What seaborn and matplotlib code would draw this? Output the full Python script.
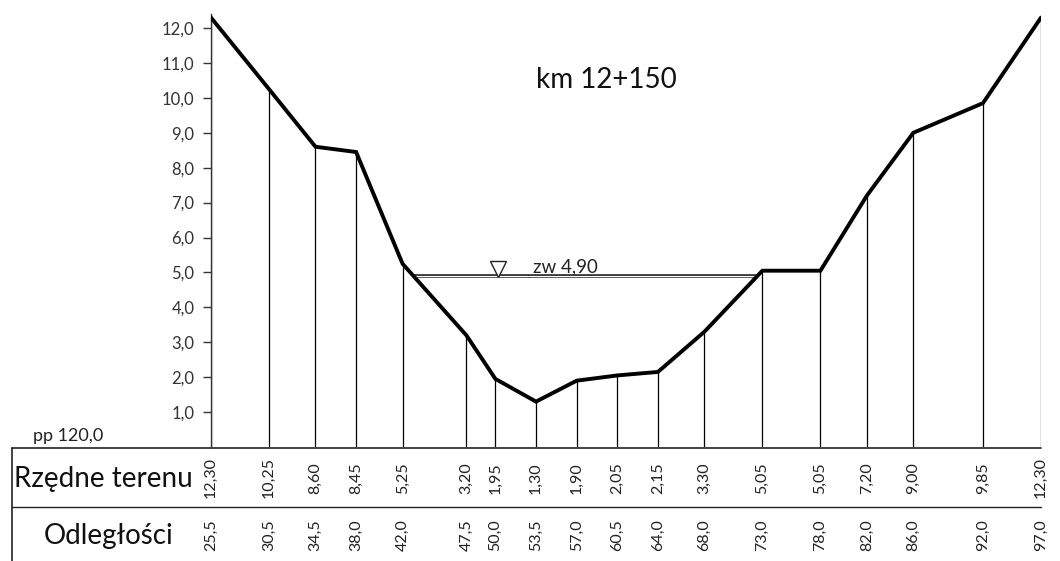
import numpy as np
import pandas as pd
import matplotlib
matplotlib.use("Agg")
import matplotlib.pyplot as plt
import seaborn as sns
from matplotlib.lines import Line2D

# ---- data ----
distances = [25.5, 30.5, 34.5, 38.0, 42.0, 47.5, 50.0, 53.5, 57.0, 60.5,
             64.0, 68.0, 73.0, 78.0, 82.0, 86.0, 92.0, 97.0]
elevations = [12.30, 10.25, 8.60, 8.45, 5.25, 3.20, 1.95, 1.30, 1.90, 2.05,
              2.15, 3.30, 5.05, 5.05, 7.20, 9.00, 9.85, 12.30]
water_level = 4.90
y_ticks = [1, 2, 3, 4, 5, 6, 7, 8, 9, 10, 11, 12]
title_text = "km 12+150"
datum_text = "pp 120,0"
water_text = "zw 4,90"
row_labels = ["Rzędne terenu", "Odległości"]

def pl(v, nd):
    return f"{v:.{nd}f}".replace(".", ",")

df = pd.DataFrame({"x": distances, "z": elevations})

sns.set_theme(style="white")
plt.rcParams["font.family"] = ["Lato", "DejaVu Sans"]

W, H = 1060, 561
fig = plt.figure(figsize=(W / 100, H / 100), dpi=100)
fig.patch.set_facecolor("white")

ax_left, ax_right = 211, 1041
ax_top, ax_bot = 14.1, 447
ax = fig.add_axes([ax_left / W, (H - ax_bot) / H,
                   (ax_right - ax_left) / W, (ax_bot - ax_top) / H])
ax.set_facecolor("none")

ax.set_xlim(distances[0], distances[-1])
ax.set_ylim(0, 12.4)

# vertical station lines
ax.vlines(df["x"], 0, df["z"], color="black", lw=0.9, zorder=2)

# water level line (double line) between ground crossings
x = np.array(distances); z = np.array(elevations)
cross = []
for i in range(len(x) - 1):
    a, b = z[i] - water_level, z[i + 1] - water_level
    if a * b < 0:
        cross.append(x[i] + (water_level - z[i]) / (z[i + 1] - z[i]) * (x[i + 1] - x[i]))
wx = [cross[0], cross[-1]]
ax.plot(wx, [water_level, water_level], color="#222222", lw=2.6, zorder=3,
        solid_capstyle="butt")
ax.plot(wx, [water_level, water_level], color="white", lw=0.9, zorder=3.1,
        solid_capstyle="butt")
ax.plot([50.2], [water_level + 0.2], marker="v", markersize=11,
        mfc="white", mec="#222222", mew=1.0, zorder=4, ls="none")
ax.text(53.2, water_level + 0.27, water_text, fontsize=13.5, color="#222222",
        va="center", ha="left")

# ground profile
sns.lineplot(data=df, x="x", y="z", ax=ax, color="black", lw=2.8,
             sort=False, zorder=5, solid_joinstyle="miter")

ax.text(59.6, 10.5, title_text, fontsize=20, color="#111111",
        ha="center", va="center")

# axes styling
for s in ["top", "right", "bottom"]:
    ax.spines[s].set_visible(False)
ax.spines["left"].set_color("#333333")
ax.spines["left"].set_linewidth(1.0)
ax.set_yticks(y_ticks)
ax.set_yticklabels([pl(v, 1) for v in y_ticks], fontsize=12, color="#333333")
ax.tick_params(axis="y", direction="out", length=6, width=1, color="#333333",
               pad=6, left=True)
ax.set_xticks([])
ax.set_xlabel("")
ax.set_ylabel("")

# table values below the plot
xt = ax.get_xaxis_transform()
row1_y = -(478 - ax_bot) / (ax_bot - ax_top)
row2_y = -(535 - ax_bot) / (ax_bot - ax_top)
for xi, zi in zip(distances, elevations):
    ax.text(xi, row1_y, pl(zi, 2), transform=xt, rotation=90, fontsize=11.5,
            ha="center", va="center", color="#222222", clip_on=False)
    ax.text(xi, row2_y, pl(xi, 1), transform=xt, rotation=90, fontsize=11.5,
            ha="center", va="center", color="#222222", clip_on=False)

# overlay for table frame and labels (pixel coordinates)
ov = fig.add_axes([0, 0, 1, 1], zorder=-1)
ov.set_xlim(0, W); ov.set_ylim(H, 0); ov.axis("off")
ov.add_line(Line2D([12, ax_right], [448, 448], color="#222222", lw=1.2))
ov.add_line(Line2D([12, ax_right], [507, 507], color="#222222", lw=1.0))
ov.add_line(Line2D([12, 12], [448, H], color="#222222", lw=1.2))
ov.text(14, 479, row_labels[0], fontsize=20, ha="left", va="center", color="#111111")
ov.text(44, 536, row_labels[1], fontsize=20, ha="left", va="center", color="#111111")
ov.text(33, 436, datum_text, fontsize=13, ha="left", va="center", color="#222222")

fig.savefig("out.png", dpi=100, facecolor="white")
